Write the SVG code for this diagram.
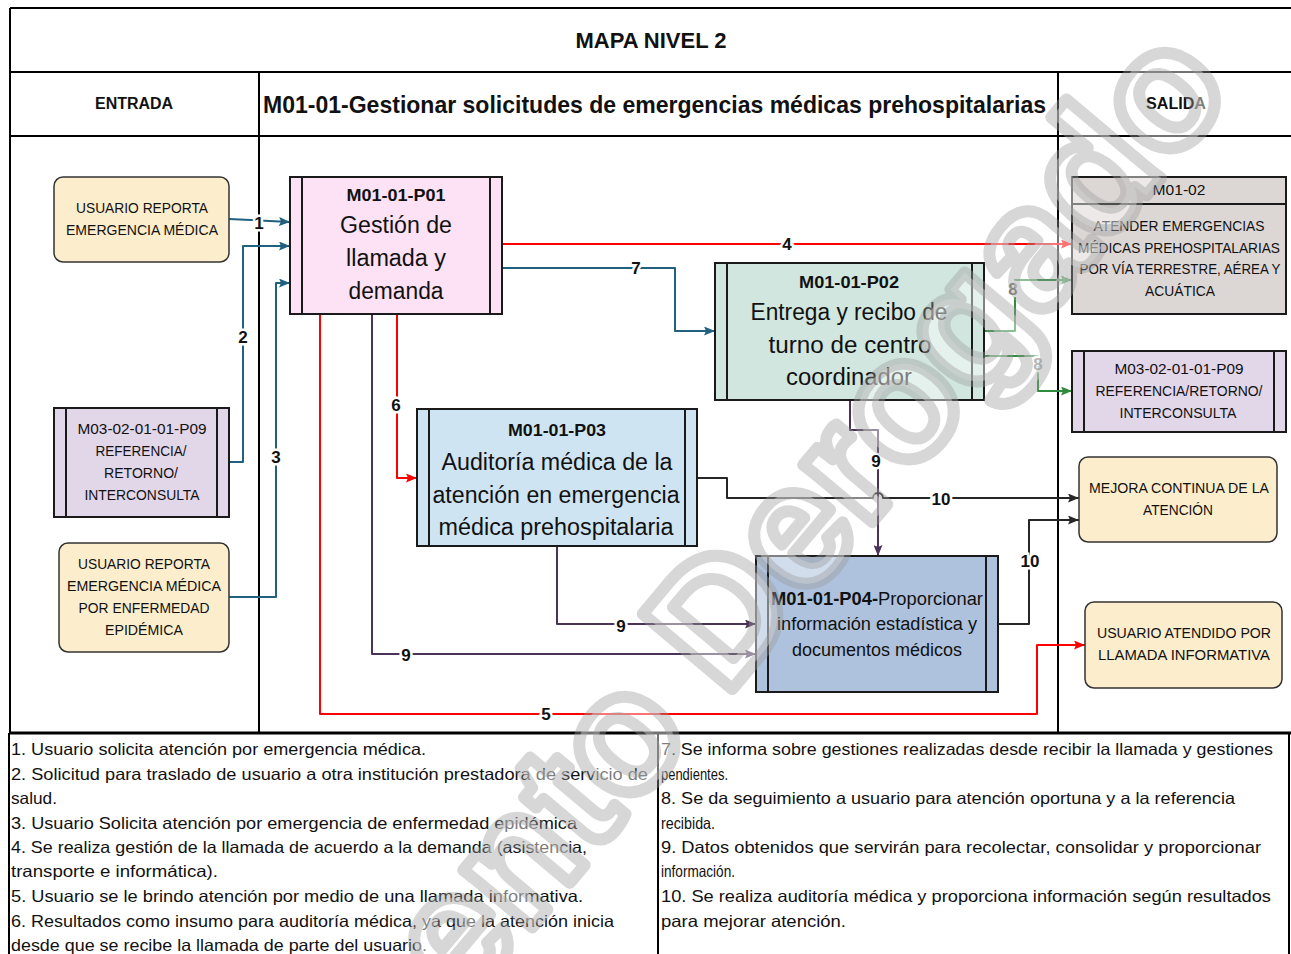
<svg xmlns="http://www.w3.org/2000/svg" width="1291" height="954" viewBox="0 0 1291 954">
<defs>
<style>
text{font-family:"Liberation Sans",Arial,sans-serif;fill:#111}
.hd{font-weight:bold}
.cap{font-size:14px;text-anchor:middle}
.big{font-size:23px;text-anchor:middle}
.code{font-size:17px;font-weight:bold;text-anchor:middle}
.lbl{font-size:17px;font-weight:bold;text-anchor:middle;paint-order:stroke;stroke:#fff;stroke-width:5px}
.note{font-size:16.5px}
.grid{stroke:#000;stroke-width:2;fill:none}
.box{stroke:#1a1a1a;stroke-width:2}
.in{stroke:#1a1a1a;stroke-width:2}
.c{fill:none;stroke-width:2;stroke-linejoin:round}
</style>
<marker id="aT" markerWidth="11" markerHeight="9" refX="11" refY="4.5" orient="auto" markerUnits="userSpaceOnUse"><path d="M0,0 L11,4.5 L0,9 L2,4.5 z" fill="#22607f"/></marker>
<marker id="aR" markerWidth="11" markerHeight="9" refX="11" refY="4.5" orient="auto" markerUnits="userSpaceOnUse"><path d="M0,0 L11,4.5 L0,9 L2,4.5 z" fill="#ff0000"/></marker>
<marker id="aG" markerWidth="11" markerHeight="9" refX="11" refY="4.5" orient="auto" markerUnits="userSpaceOnUse"><path d="M0,0 L11,4.5 L0,9 L2,4.5 z" fill="#2f8a3c"/></marker>
<marker id="aP" markerWidth="11" markerHeight="9" refX="11" refY="4.5" orient="auto" markerUnits="userSpaceOnUse"><path d="M0,0 L11,4.5 L0,9 L2,4.5 z" fill="#4a3356"/></marker>
<marker id="aK" markerWidth="11" markerHeight="9" refX="11" refY="4.5" orient="auto" markerUnits="userSpaceOnUse"><path d="M0,0 L11,4.5 L0,9 L2,4.5 z" fill="#262626"/></marker>
</defs>
<rect width="1291" height="954" fill="#fff"/>

<g id="frame">
<path class="grid" d="M10,8 H1291 M10,72 H1291 M10,136 H1291 M10,8 V732 M259,72 V732 M1058,72 V732"/>
<path d="M9,733 H1291" stroke="#000" stroke-width="3"/>
<path class="grid" d="M9,733 V954 M658,733 V954 M1289,733 V954" stroke-width="1.5"/>
<text x="651" y="48" class="hd" font-size="22" text-anchor="middle" textLength="151" lengthAdjust="spacingAndGlyphs">MAPA NIVEL 2</text>
<text x="134" y="109" class="hd" font-size="16" text-anchor="middle" textLength="78" lengthAdjust="spacingAndGlyphs">ENTRADA</text>
<text x="654.5" y="113" class="hd" font-size="24" text-anchor="middle" textLength="783" lengthAdjust="spacingAndGlyphs">M01-01-Gestionar solicitudes de emergencias médicas prehospitalarias</text>
<text x="1176" y="109" class="hd" font-size="16" text-anchor="middle" textLength="60" lengthAdjust="spacingAndGlyphs">SALIDA</text>
</g>

<g id="connectors">
<path class="c" stroke="#22607f" d="M229,219 L290,222" marker-end="url(#aT)"/>
<path class="c" stroke="#22607f" d="M229,462 H243 V246 H290" marker-end="url(#aT)"/>
<path class="c" stroke="#22607f" d="M229,597 H276 V283 H290" marker-end="url(#aT)"/>
<path class="c" stroke="#ff0000" d="M502,244 H1072" marker-end="url(#aR)"/>
<path class="c" stroke="#ff0000" d="M320,314 V714 H1037 V645 H1085" marker-end="url(#aR)"/>
<path class="c" stroke="#ff0000" d="M397,314 V478 H417" marker-end="url(#aR)"/>
<path class="c" stroke="#22607f" d="M502,268 H675 V331 H715" marker-end="url(#aT)"/>
<path class="c" stroke="#2f8a3c" d="M984,331 H1015 V280 H1072" marker-end="url(#aG)"/>
<path class="c" stroke="#2f8a3c" d="M984,356 H1038 V391 H1072" marker-end="url(#aG)"/>
<path class="c" stroke="#4a3356" d="M850,400 V430 H878 V556" marker-end="url(#aP)"/>
<path class="c" stroke="#4a3356" d="M557,546 V624 H756" marker-end="url(#aP)"/>
<path class="c" stroke="#4a3356" d="M372,314 V654 H756" marker-end="url(#aP)"/>
<path class="c" stroke="#262626" d="M697,478 H727 V498 H873 A5,5 0 0 1 883,498 H1079" marker-end="url(#aK)"/>
<path class="c" stroke="#262626" d="M998,624 H1029 V520 H1079" marker-end="url(#aK)"/>
<text x="259" y="229" class="lbl">1</text>
<text x="243" y="343" class="lbl">2</text>
<text x="276" y="463" class="lbl">3</text>
<text x="787" y="250" class="lbl">4</text>
<text x="546" y="720" class="lbl">5</text>
<text x="396" y="411" class="lbl">6</text>
<text x="636" y="274" class="lbl">7</text>
<text x="1013" y="295" class="lbl" style="fill:#7a7a7a">8</text>
<text x="1038" y="370" class="lbl" style="fill:#7a7a7a">8</text>
<text x="876" y="467" class="lbl">9</text>
<text x="621" y="632" class="lbl">9</text>
<text x="406" y="661" class="lbl">9</text>
<text x="941" y="505" class="lbl">10</text>
<text x="1030" y="567" class="lbl">10</text>
</g>

<g id="n-usuario1">
<rect x="54" y="177" width="175" height="85" rx="9" fill="#fcedcc" stroke="#333" stroke-width="1.5"/>
<text x="142" y="213" class="cap" textLength="132" lengthAdjust="spacingAndGlyphs">USUARIO REPORTA</text>
<text x="142" y="235" class="cap" textLength="152" lengthAdjust="spacingAndGlyphs">EMERGENCIA MÉDICA</text>
</g>

<g id="n-p01">
<rect x="290" y="177" width="212" height="137" fill="#fde1f4" class="box"/>
<path class="in" d="M302,177 V314 M490,177 V314"/>
<text x="396" y="201" class="code" textLength="99" lengthAdjust="spacingAndGlyphs">M01-01-P01</text>
<text x="396" y="233" class="big" textLength="112" lengthAdjust="spacingAndGlyphs">Gestión de</text>
<text x="396" y="266" class="big" textLength="100" lengthAdjust="spacingAndGlyphs">llamada y</text>
<text x="396" y="299" class="big" textLength="95" lengthAdjust="spacingAndGlyphs">demanda</text>
</g>

<g id="n-p09-in">
<rect x="54" y="408" width="175" height="109" fill="#e2d6e9" class="box"/>
<path class="in" d="M66,408 V517 M217,408 V517"/>
<text x="142" y="434" class="cap" textLength="129" lengthAdjust="spacingAndGlyphs">M03-02-01-01-P09</text>
<text x="141" y="456" class="cap" textLength="91" lengthAdjust="spacingAndGlyphs">REFERENCIA/</text>
<text x="141" y="478" class="cap" textLength="74" lengthAdjust="spacingAndGlyphs">RETORNO/</text>
<text x="142" y="500" class="cap" textLength="115" lengthAdjust="spacingAndGlyphs">INTERCONSULTA</text>
</g>

<g id="n-usuario3">
<rect x="59" y="543" width="170" height="109" rx="9" fill="#fcedcc" stroke="#333" stroke-width="1.5"/>
<text x="144" y="569" class="cap" textLength="132" lengthAdjust="spacingAndGlyphs">USUARIO REPORTA</text>
<text x="144" y="591" class="cap" textLength="154" lengthAdjust="spacingAndGlyphs">EMERGENCIA MÉDICA</text>
<text x="144" y="613" class="cap" textLength="131" lengthAdjust="spacingAndGlyphs">POR ENFERMEDAD</text>
<text x="144" y="635" class="cap" textLength="78" lengthAdjust="spacingAndGlyphs">EPIDÉMICA</text>
</g>

<g id="n-p02">
<rect x="715" y="263" width="269" height="137" fill="#d0e6de" class="box"/>
<path class="in" d="M727,263 V400 M972,263 V400"/>
<text x="849" y="288" class="code" textLength="100" lengthAdjust="spacingAndGlyphs">M01-01-P02</text>
<text x="849" y="320" class="big" textLength="197" lengthAdjust="spacingAndGlyphs">Entrega y recibo de</text>
<text x="850" y="353" class="big" textLength="163" lengthAdjust="spacingAndGlyphs">turno de centro</text>
<text x="849" y="385" class="big" textLength="126" lengthAdjust="spacingAndGlyphs">coordinador</text>
</g>

<g id="n-p03">
<rect x="417" y="409" width="280" height="137" fill="#cfe4f2" class="box"/>
<path class="in" d="M429,409 V546 M685,409 V546"/>
<text x="557" y="436" class="code" textLength="98" lengthAdjust="spacingAndGlyphs">M01-01-P03</text>
<text x="557" y="470" class="big" textLength="231" lengthAdjust="spacingAndGlyphs">Auditoría médica de la</text>
<text x="556" y="503" class="big" textLength="247" lengthAdjust="spacingAndGlyphs">atención en emergencia</text>
<text x="556" y="535" class="big" textLength="235" lengthAdjust="spacingAndGlyphs">médica prehospitalaria</text>
</g>

<g id="n-p04">
<rect x="756" y="556" width="242" height="136" fill="#aec2dd" class="box"/>
<path class="in" d="M768,556 V692 M986,556 V692"/>
<text x="771" y="605" font-size="18" textLength="212" lengthAdjust="spacingAndGlyphs"><tspan font-weight="bold">M01-01-P04-</tspan>Proporcionar</text>
<text x="877" y="630" font-size="18" text-anchor="middle" textLength="200" lengthAdjust="spacingAndGlyphs">información estadística y</text>
<text x="877" y="656" font-size="18" text-anchor="middle" textLength="170" lengthAdjust="spacingAndGlyphs">documentos médicos</text>
</g>

<g id="n-m0102">
<rect x="1072" y="177" width="214" height="137" fill="#dcd7d5" class="box"/>
<path class="in" d="M1072,204 H1286"/>
<text x="1179" y="195" class="cap" textLength="53" lengthAdjust="spacingAndGlyphs">M01-02</text>
<text x="1179" y="231" class="cap" textLength="171" lengthAdjust="spacingAndGlyphs">ATENDER EMERGENCIAS</text>
<text x="1179" y="253" class="cap" textLength="202" lengthAdjust="spacingAndGlyphs">MÉDICAS PREHOSPITALARIAS</text>
<text x="1180" y="274" class="cap" textLength="201" lengthAdjust="spacingAndGlyphs">POR VÍA TERRESTRE, AÉREA Y</text>
<text x="1180" y="296" class="cap" textLength="70" lengthAdjust="spacingAndGlyphs">ACUÁTICA</text>
</g>

<g id="n-p09-out">
<rect x="1072" y="351" width="214" height="81" fill="#e2d6e9" class="box"/>
<path class="in" d="M1084,351 V432 M1274,351 V432"/>
<text x="1179" y="374" class="cap" textLength="129" lengthAdjust="spacingAndGlyphs">M03-02-01-01-P09</text>
<text x="1179" y="396" class="cap" textLength="167" lengthAdjust="spacingAndGlyphs">REFERENCIA/RETORNO/</text>
<text x="1178" y="418" class="cap" textLength="117" lengthAdjust="spacingAndGlyphs">INTERCONSULTA</text>
</g>

<g id="n-mejora">
<rect x="1079" y="457" width="198" height="85" rx="9" fill="#fcedcc" stroke="#333" stroke-width="1.5"/>
<text x="1179" y="493" class="cap" textLength="180" lengthAdjust="spacingAndGlyphs">MEJORA CONTINUA DE LA</text>
<text x="1178" y="515" class="cap" textLength="70" lengthAdjust="spacingAndGlyphs">ATENCIÓN</text>
</g>

<g id="n-atendido">
<rect x="1085" y="602" width="197" height="86" rx="9" fill="#fcedcc" stroke="#333" stroke-width="1.5"/>
<text x="1184" y="638" class="cap" textLength="174" lengthAdjust="spacingAndGlyphs">USUARIO ATENDIDO POR</text>
<text x="1184" y="660" class="cap" textLength="172" lengthAdjust="spacingAndGlyphs">LLAMADA INFORMATIVA</text>
</g>

<g id="notes">
<text x="11" y="755" class="note" textLength="415" lengthAdjust="spacingAndGlyphs">1. Usuario solicita atención por emergencia médica.</text>
<text x="11" y="780" class="note" textLength="637" lengthAdjust="spacingAndGlyphs">2. Solicitud para traslado de usuario a otra institución prestadora de servicio de</text>
<text x="11" y="804" class="note" textLength="46" lengthAdjust="spacingAndGlyphs">salud.</text>
<text x="11" y="829" class="note" textLength="566" lengthAdjust="spacingAndGlyphs">3. Usuario Solicita atención por emergencia de enfermedad epidémica</text>
<text x="11" y="853" class="note" textLength="576" lengthAdjust="spacingAndGlyphs">4. Se realiza  gestión de la llamada de acuerdo a la demanda (asistencia,</text>
<text x="11" y="877" class="note" textLength="207" lengthAdjust="spacingAndGlyphs">transporte e informática).</text>
<text x="11" y="902" class="note" textLength="572" lengthAdjust="spacingAndGlyphs">5. Usuario se le brindo atención por medio de una llamada informativa.</text>
<text x="11" y="927" class="note" textLength="603" lengthAdjust="spacingAndGlyphs">6. Resultados como insumo para auditoría médica, ya que la atención inicia</text>
<text x="11" y="951" class="note" textLength="416" lengthAdjust="spacingAndGlyphs">desde que se recibe la llamada de parte del usuario.</text>
<text x="661" y="755" class="note" textLength="612" lengthAdjust="spacingAndGlyphs">7. Se informa sobre gestiones realizadas desde recibir la llamada y gestiones</text>
<text x="661" y="780" class="note" textLength="67" lengthAdjust="spacingAndGlyphs">pendientes.</text>
<text x="661" y="804" class="note" textLength="574" lengthAdjust="spacingAndGlyphs">8. Se da seguimiento a usuario para atención oportuna y a la referencia</text>
<text x="661" y="829" class="note" textLength="54" lengthAdjust="spacingAndGlyphs">recibida.</text>
<text x="661" y="853" class="note" textLength="600" lengthAdjust="spacingAndGlyphs">9. Datos obtenidos que servirán para recolectar, consolidar y proporcionar</text>
<text x="661" y="877" class="note" textLength="74" lengthAdjust="spacingAndGlyphs">información.</text>
<text x="661" y="902" class="note" textLength="610" lengthAdjust="spacingAndGlyphs">10. Se realiza  auditoría médica y proporciona información según resultados</text>
<text x="661" y="927" class="note" textLength="185" lengthAdjust="spacingAndGlyphs">para mejorar atención.</text>
</g>

<g id="watermark">
<text x="1235" y="90" text-anchor="end" transform="rotate(-50 1235 90)" font-size="170" font-weight="bold" style="fill:#ffffff;fill-opacity:0.45;stroke:#9a9a9a;stroke-opacity:0.4;stroke-width:12px;stroke-linejoin:round">Documento Derogado</text>
</g>
</svg>
